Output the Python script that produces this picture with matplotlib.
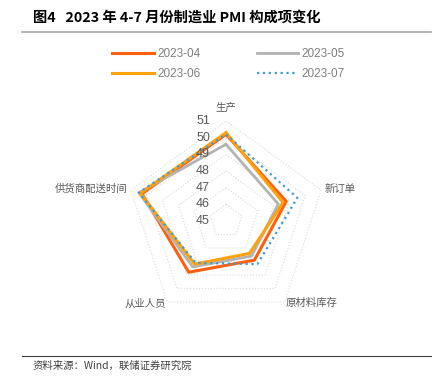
import numpy as np
import matplotlib.pyplot as plt
from matplotlib.lines import Line2D
import matplotlib.transforms as mtransforms

plt.rcParams['font.family'] = ['Noto Sans CJK SC', 'DejaVu Sans']

categories = ['生产', '新订单', '原材料库存', '从业人员', '供货商配送时间']
months = ['2023-04', '2023-05', '2023-06', '2023-07']
pmi_04 = [50.2, 48.8, 47.9, 48.8, 50.3]
pmi_05 = [49.6, 48.3, 47.6, 48.4, 50.5]
pmi_06 = [50.3, 48.6, 47.4, 48.2, 50.4]
pmi_07 = [50.2, 49.5, 48.2, 48.1, 50.5]
r_ticks = [45, 46, 47, 48, 49, 50, 51]

series = [pmi_04, pmi_05, pmi_06, pmi_07]
colors = ['#FF5F0F', '#B3B3B3', '#FFA10A', '#3C9BDC']
styles = ['-', '-', '-', ':']
widths = [2.2, 2.0, 2.2, 1.6]

fig = plt.figure(figsize=(4.38, 3.77), dpi=100)
ax = fig.add_axes([0.2877, 0.1485, 0.4566, 0.5305], projection='polar')
ax.set_theta_zero_location('N')
ax.set_theta_direction(-1)
ax.set_ylim(45, 51)

n = len(categories)
angles = np.linspace(0, 2 * np.pi, n, endpoint=False)
closed = np.append(angles, angles[0])

# pentagon grid
for v in r_ticks[1:]:
    ax.plot(closed, [v] * (n + 1), color='#D9D9D9', lw=0.8, ls=':', zorder=1)

lines = []
for vals, c, s, w, m in zip(series, colors, styles, widths, months):
    ln, = ax.plot(closed, vals + vals[:1], color=c, ls=s, lw=w, label=m, zorder=3)
    lines.append(ln)

ax.grid(False)
ax.spines['polar'].set_visible(False)
ax.set_xticks([])
ax.set_yticks([])
ax.patch.set_alpha(0)

# radial labels, shifted left of top axis
off = mtransforms.offset_copy(ax.transData, fig=fig, x=-23, y=0, units='dots')
for v in r_ticks:
    ax.text(0, v, str(v), transform=off, ha='center', va='center',
            fontsize=9, color='#595959', family=['Liberation Sans', 'DejaVu Sans'])

# category labels
lab_pos = [(0, 51.85, 'center'),
           (angles[1], 51.25, 'left'),
           (angles[2], 51.1, 'left'),
           (angles[3], 51.15, 'right'),
           (angles[4], 51.25, 'right')]
for cat, (a, r, ha) in zip(categories, lab_pos):
    ax.text(a, r, cat, ha=ha, va='center', fontsize=7.5, color='#595959',
            fontweight='light')

# legend: row-wise order 04, 05 / 06, 07
fig.legend(handles=[lines[0], lines[2], lines[1], lines[3]],
           loc='upper center', bbox_to_anchor=(0.522, 0.9), ncol=2,
           frameon=False, handlelength=3.5, columnspacing=4.8,
           labelspacing=0.65, handletextpad=0.3,
           labelcolor='#7F7F7F', prop={'family': ['Liberation Sans', 'DejaVu Sans'], 'size': 8.5})

fig.text(0.075, 0.953, '图4   2023 年 4-7 月份制造业 PMI 构成项变化', fontsize=10.3,
         fontweight='bold', ha='left', va='center', color='black')
fig.add_artist(Line2D([0.05, 0.985], [0.915, 0.915], color='#A6A6A6', lw=1.2))
fig.add_artist(Line2D([0.05, 0.985], [0.056, 0.056], color='#404040', lw=0.8))
fig.text(0.075, 0.03, '资料来源：Wind，联储证券研究院', fontsize=7.5,
         ha='left', va='center', color='#404040', fontweight='light')

fig.savefig('out.png', dpi=100)
